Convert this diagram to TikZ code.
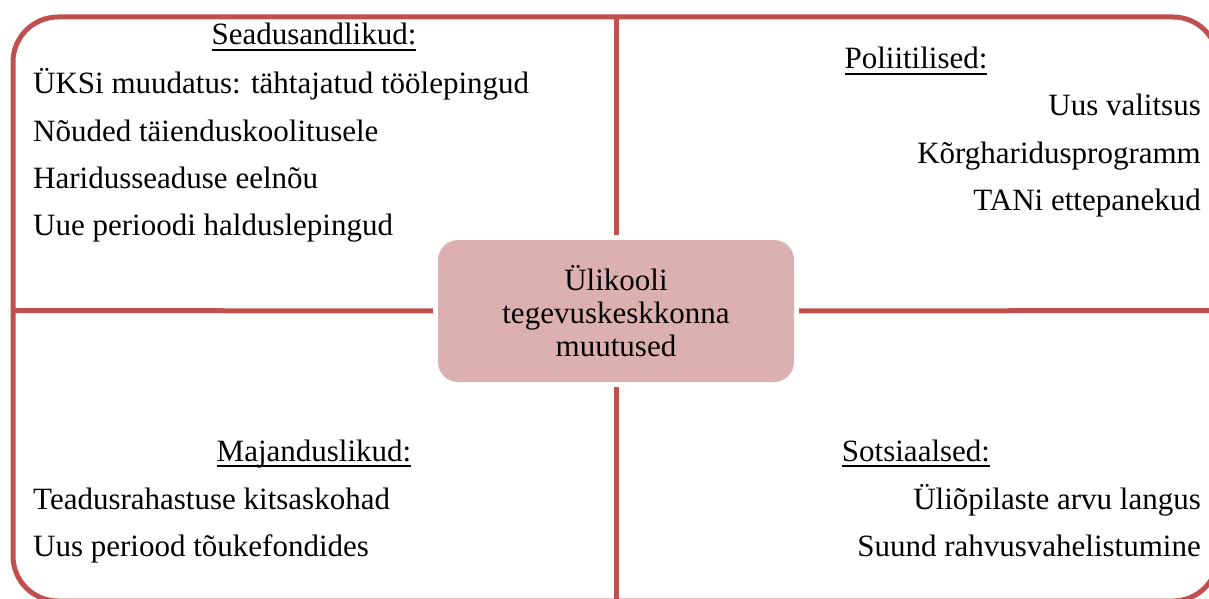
\documentclass[tikz,border=0pt]{standalone}
\usepackage{fontspec}
\setmainfont{Liberation Serif}
\usetikzlibrary{positioning}
\definecolor{framered}{RGB}{192,80,77}
\definecolor{corepink}{RGB}{220,176,176}
\newsavebox{\hdrbox}
\newcommand{\hdr}[1]{\sbox{\hdrbox}{#1}\rlap{\rule[-6pt]{\wd\hdrbox}{1.8pt}}\usebox{\hdrbox}}

\begin{document}
\begin{tikzpicture}[
    x=1pt, y=-1pt,
    every node/.style={font=\rmfamily\fontsize{31}{33}\selectfont, inner sep=0pt},
    frame/.style={draw=framered, line width=5pt},
    core/.style={fill=corepink, rounded corners=20pt, minimum width=356pt, minimum height=142pt, align=center},
    heading/.style={anchor=base},
    item/.style={anchor=base west},
    ritem/.style={anchor=base east}
]
    \useasboundingbox (0,0) rectangle (1209,599);

    % Frame
    \draw[frame, rounded corners=45pt] (13,17) rectangle (1218,601);
    \coordinate (top) at (616,17);
    \coordinate (bottom) at (616,601);
    \coordinate (left) at (13,310.5);
    \coordinate (right) at (1218,310.5);

    % Centre
    \node[core] (core) at (616,311) {Ülikooli\\tegevuskeskkonna\\muutused};

    % Cross
    \draw[frame, shorten <=5pt] (core.north) -- (top);
    \draw[frame, shorten <=5pt] (core.south) -- (bottom);
    \draw[frame, shorten <=5pt] (core.west) -- (left);
    \draw[frame, shorten <=5pt] (core.east) -- (right);

    % Seadusandlikud
    \node[heading] (law) at (314,45) {\hdr{Seadusandlikud:}};
    \node[item] (law1) at (33,94) {ÜKSi muudatus: tähtajatud töölepingud};
    \node[item] (law2) at ([yshift=-47pt]law1.base west) {Nõuded täienduskoolitusele};
    \node[item] (law3) at ([yshift=-47pt]law2.base west) {Haridusseaduse eelnõu};
    \node[item] (law4) at ([yshift=-47pt]law3.base west) {Uue perioodi halduslepingud};

    % Poliitilised
    \node[heading] (pol) at (916,69) {\hdr{Poliitilised:}};
    \node[ritem] (pol1) at (1201,116) {Uus valitsus};
    \node[ritem] (pol2) at ([yshift=-47pt]pol1.base east) {Kõrgharidusprogramm};
    \node[ritem] (pol3) at ([yshift=-47pt]pol2.base east) {TANi ettepanekud};

    % Majanduslikud
    \node[heading] (eco) at (314,461) {\hdr{Majanduslikud:}};
    \node[item] (eco1) at (33,509) {Teadusrahastuse kitsaskohad};
    \node[item] (eco2) at ([yshift=-47pt]eco1.base west) {Uus periood tõukefondides};

    % Sotsiaalsed
    \node[heading] (soc) at (916,461) {\hdr{Sotsiaalsed:}};
    \node[ritem] (soc1) at (1201,509) {Üliõpilaste arvu langus};
    \node[ritem] (soc2) at ([yshift=-47pt]soc1.base east) {Suund rahvusvahelistumine};
\end{tikzpicture}
\end{document}
